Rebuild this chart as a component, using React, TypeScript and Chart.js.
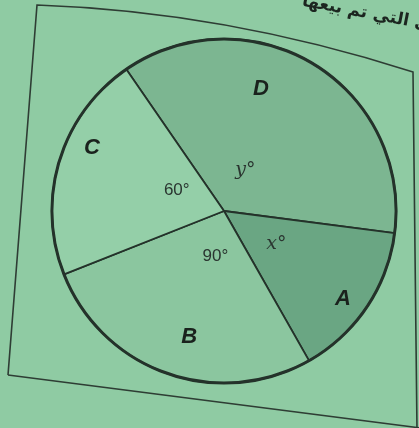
import React, { useEffect, useRef } from "react";
import { Chart, registerables } from "chart.js";

Chart.register(...registerables);

// ---- data ----
const categories = ["D", "A", "B", "C"];
const sliceValues = [132, 53, 98, 77];
const angleLabels = ["y°", "x°", "90°", "60°"];
const headerText = "ى التي تم بيعها";

// ---- style ----
const sliceColors = ["#7cb691", "#6aa683", "#8bc69f", "#94cfa8"];
const pageColor = "#8fcba3";
const inkColor = "#24322a";
// label placement relative to each slice: [fraction along the arc, fraction of radius]
const letterPlacement = [[0.39, 0.74], [0.55, 0.86], [0.46, 0.76], [0.61, 0.85]];
const anglePlacement = [[0.47, 0.27], [0.47, 0.36], [0.41, 0.27], [0.59, 0.3]];

const decorPlugin = {
  id: "decor",
  beforeDraw(chart: any) {
    const ctx = chart.ctx;
    ctx.save();
    ctx.fillStyle = pageColor;
    ctx.fillRect(0, 0, chart.width, chart.height);
    // paper frame
    ctx.strokeStyle = "#2e3d34";
    ctx.lineWidth = 1.6;
    ctx.beginPath();
    ctx.moveTo(8, 375);
    ctx.lineTo(37, 5);
    ctx.quadraticCurveTo(225, 11.5, 413, 72);
    ctx.lineTo(417, 430);
    ctx.stroke();
    ctx.beginPath();
    ctx.moveTo(8, 375);
    ctx.lineTo(421, 428);
    ctx.stroke();
    // header text
    ctx.translate(429, 30);
    ctx.rotate(0.19);
    ctx.fillStyle = "#1c2620";
    ctx.font = "bold 17px 'DejaVu Sans'";
    ctx.direction = "rtl";
    ctx.textAlign = "right";
    ctx.textBaseline = "alphabetic";
    ctx.fillText(headerText, 0, 0);
    ctx.restore();
  },
  afterDatasetsDraw(chart: any) {
    const ctx = chart.ctx;
    const meta = chart.getDatasetMeta(0);
    ctx.save();
    meta.data.forEach((arc: any, i: number) => {
      const p = arc.getProps(["x", "y", "startAngle", "endAngle", "outerRadius"], true);
      const put = (pl: number[]) => {
        const a = p.startAngle + (p.endAngle - p.startAngle) * pl[0];
        const r = p.outerRadius * pl[1];
        return [p.x + Math.cos(a) * r, p.y + Math.sin(a) * r];
      };
      ctx.fillStyle = "#1a221d";
      ctx.textAlign = "center";
      ctx.textBaseline = "middle";
      const [lx, ly] = put(letterPlacement[i]);
      ctx.font = "italic bold 22px 'Liberation Sans'";
      ctx.fillText(categories[i], lx, ly);
      const [ax, ay] = put(anglePlacement[i]);
      const lbl = angleLabels[i];
      if (/^[a-z]/.test(lbl)) {
        ctx.font = "italic 19px 'DejaVu Serif'";
      } else {
        ctx.font = "17px 'Liberation Sans'";
      }
      ctx.fillStyle = "#2a3530";
      ctx.fillText(lbl, ax, ay);
    });
    // thicker outer rim
    const p0 = meta.data[0].getProps(["x", "y", "outerRadius"], true);
    ctx.strokeStyle = inkColor;
    ctx.lineWidth = 3;
    ctx.beginPath();
    ctx.arc(p0.x, p0.y, p0.outerRadius, 0, Math.PI * 2);
    ctx.stroke();
    ctx.restore();
  },
};

export default function App() {
  const ref = useRef<HTMLCanvasElement>(null);
  useEffect(() => {
    document.body.style.margin = "0";
    document.body.style.background = pageColor;
    const chart = new Chart(ref.current!, {
      type: "pie",
      data: {
        labels: categories,
        datasets: [
          {
            data: sliceValues,
            backgroundColor: sliceColors,
            borderColor: inkColor,
            borderWidth: 1.8,
            hoverOffset: 0,
          },
        ],
      },
      options: {
        responsive: false,
        animation: false,
        rotation: -34.6,
        layout: { padding: { left: 51, right: 22, top: 38, bottom: 44 } },
        plugins: {
          legend: { display: false },
          tooltip: { enabled: false },
        },
        events: [],
      },
      plugins: [decorPlugin],
    });
    return () => chart.destroy();
  }, []);
  return <canvas ref={ref} width={419} height={428} style={{ display: "block" }} />;
}
